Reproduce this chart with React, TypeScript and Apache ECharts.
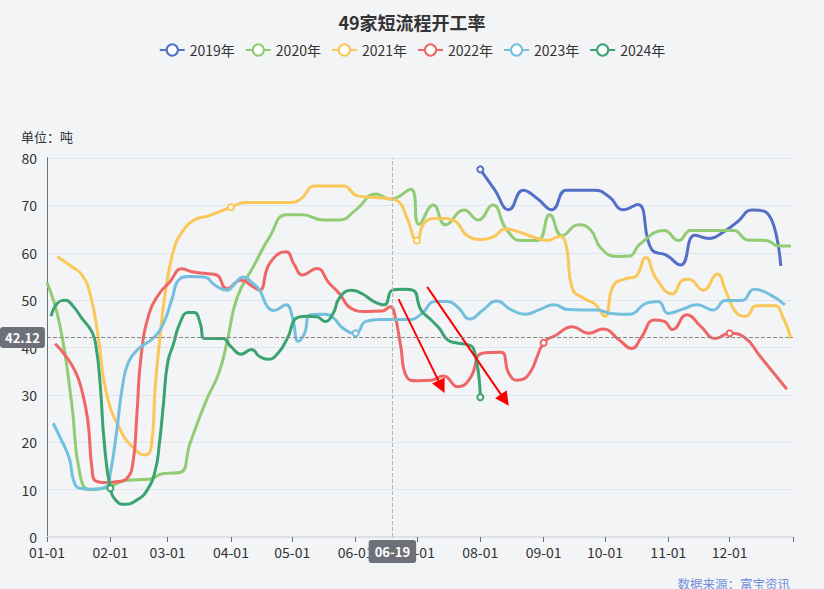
import React, { useEffect, useRef } from 'react';
import * as echarts from 'echarts';

const chartTitle = '49家短流程开工率';
const yUnit = '单位：吨';
const sourceText = '数据来源：富宝资讯';
const monthTicks = ['01-01', '02-01', '03-01', '04-01', '05-01', '06-01', '07-01', '08-01', '09-01', '10-01', '11-01', '12-01'];
const yearNames = ['2019年', '2020年', '2021年', '2022年', '2023年', '2024年'];
const yearColors = ['#5470c6', '#91cc75', '#fac858', '#ee6666', '#73c0de', '#3ba272'];

const dates2019 = ['08-01', '08-08', '08-15', '08-22', '08-29', '09-05', '09-12', '09-19', '09-26', '10-03', '10-10', '10-17', '10-24', '10-31', '11-07', '11-14', '11-21', '11-28', '12-05', '12-12', '12-19', '12-26'];
const values2019 = [77.6, 73.3, 69.1, 73.2, 71.4, 69.1, 73.2, 73.2, 73.2, 71.8, 69.1, 70.2, 60.6, 59.5, 57.4, 63.7, 63.0, 64.4, 66.6, 69.0, 68.5, 57.2];
const markers2019 = ['08-01'];

const dates2020 = ['01-01', '01-07', '01-13', '01-17', '01-22', '01-31', '02-09', '02-20', '02-27', '03-07', '03-12', '03-20', '03-26', '03-30', '04-04', '04-12', '04-20', '04-28', '05-06', '05-16', '05-24', '06-01', '06-11', '06-18', '06-28', '07-02', '07-09', '07-15', '07-24', '07-31', '08-07', '08-14', '08-21', '08-29', '09-04', '09-10', '09-18', '09-24', '09-29', '10-07', '10-13', '10-18', '10-30', '11-06', '11-12', '11-19', '11-26', '12-03', '12-10', '12-19', '12-25', '12-31'];
const values2020 = [53.7, 45.3, 28.5, 13.5, 10.0, 10.5, 12.0, 12.2, 13.4, 13.6, 19.8, 28.9, 34.5, 41.0, 50.5, 57.1, 63.4, 68.0, 68.0, 66.9, 66.9, 69.0, 72.4, 71.3, 73.4, 66.0, 70.1, 65.9, 69.0, 66.9, 70.1, 64.8, 62.6, 62.6, 68.0, 63.6, 65.9, 64.8, 61.0, 59.2, 59.3, 61.8, 64.7, 62.6, 64.7, 64.7, 64.7, 64.7, 62.7, 62.6, 61.4, 61.4];
const markers2020: string[] = [];

const dates2021 = ['01-06', '01-13', '01-18', '01-22', '01-26', '01-30', '02-06', '02-13', '02-18', '02-21', '02-23', '02-25', '02-28', '03-04', '03-08', '03-14', '03-21', '04-01', '04-08', '04-15', '04-22', '04-29', '05-05', '05-12', '05-19', '05-26', '06-02', '06-09', '06-16', '06-22', '06-26', '07-01', '07-05', '07-12', '07-19', '07-26', '08-02', '08-08', '08-13', '08-20', '08-27', '09-03', '09-09', '09-12', '09-15', '09-21', '09-26', '10-01', '10-05', '10-11', '10-16', '10-21', '10-26', '11-03', '11-08', '11-11', '11-18', '11-25', '11-29', '12-04', '12-09', '12-14', '12-23', '12-27', '12-31'];
const values2021 = [59.2, 57.1, 55.4, 51.5, 42.5, 30.5, 22.5, 18.5, 17.3, 19.0, 32.0, 41.0, 52.0, 60.6, 64.3, 66.9, 67.8, 69.6, 70.6, 70.6, 70.6, 70.6, 71.3, 74.1, 74.1, 74.1, 72.0, 71.7, 71.5, 70.8, 67.5, 62.6, 66.5, 67.3, 66.8, 63.5, 62.8, 63.5, 65.0, 64.4, 63.3, 62.6, 63.5, 61.5, 52.5, 50.3, 49.2, 46.6, 53.0, 54.5, 55.0, 59.0, 54.6, 51.3, 54.2, 54.4, 52.1, 55.5, 52.0, 47.5, 46.6, 48.8, 48.8, 46.5, 41.9];
const markers2021 = ['04-01', '07-01'];

const dates2022 = ['01-05', '01-10', '01-15', '01-18', '01-21', '01-23', '01-25', '01-30', '02-05', '02-09', '02-12', '02-14', '02-16', '02-20', '02-25', '03-02', '03-08', '03-13', '03-20', '03-25', '03-30', '04-06', '04-12', '04-15', '04-20', '04-28', '05-02', '05-06', '05-13', '05-19', '05-24', '05-30', '06-06', '06-14', '06-18', '06-20', '06-23', '06-26', '07-01', '07-08', '07-14', '07-21', '07-27', '08-02', '08-11', '08-15', '08-19', '08-25', '09-01', '09-07', '09-15', '09-23', '09-30', '10-08', '10-14', '10-19', '10-25', '10-30', '11-03', '11-10', '11-17', '11-24', '12-01', '12-08', '12-16', '12-22', '12-29'];
const values2022 = [40.8, 38.3, 34.8, 31.0, 24.5, 14.5, 11.8, 11.5, 11.7, 12.3, 15.5, 26.0, 38.0, 47.2, 51.4, 53.8, 56.6, 56.0, 55.6, 55.3, 52.4, 54.2, 52.8, 52.1, 57.8, 60.2, 57.5, 55.3, 56.7, 53.6, 51.4, 48.2, 47.6, 47.7, 48.6, 47.2, 40.5, 33.8, 33.0, 33.1, 34.0, 31.7, 33.5, 38.8, 39.0, 34.5, 33.1, 34.5, 41.0, 42.6, 44.4, 43.0, 43.9, 41.6, 39.8, 42.3, 45.8, 45.5, 43.8, 46.9, 44.4, 41.9, 43.0, 42.2, 38.1, 34.9, 31.2];
const markers2022 = ['09-01', '12-01'];

const dates2023 = ['01-04', '01-08', '01-12', '01-14', '01-17', '01-23', '01-30', '02-01', '02-04', '02-07', '02-10', '02-15', '02-22', '02-27', '03-03', '03-07', '03-12', '03-19', '03-24', '03-30', '04-03', '04-07', '04-11', '04-15', '04-19', '04-22', '04-28', '05-01', '05-04', '05-07', '05-10', '05-17', '05-21', '05-26', '06-01', '06-06', '06-13', '06-20', '06-27', '07-03', '07-10', '07-16', '07-21', '07-27', '08-02', '08-09', '08-16', '08-23', '08-30', '09-06', '09-13', '09-20', '09-27', '10-04', '10-13', '10-21', '10-27', '11-01', '11-08', '11-15', '11-23', '11-29', '12-07', '12-13', '12-21', '12-28'];
const values2023 = [24.0, 20.5, 16.5, 12.0, 10.3, 10.1, 10.6, 13.5, 22.0, 32.0, 37.0, 39.8, 42.0, 45.1, 50.0, 54.5, 55.0, 54.9, 53.2, 52.1, 53.5, 54.9, 53.8, 52.1, 48.5, 47.8, 49.0, 46.5, 41.3, 43.0, 46.9, 47.0, 46.3, 44.0, 43.0, 45.5, 45.9, 45.9, 45.9, 47.0, 49.7, 49.7, 48.5, 46.0, 47.8, 49.8, 48.0, 47.0, 48.0, 49.0, 48.0, 47.9, 47.9, 47.2, 47.0, 49.3, 49.7, 47.2, 48.1, 49.0, 47.9, 49.9, 49.9, 52.3, 51.1, 49.0];
const markers2023 = ['06-01'];

const dates2024 = ['01-03', '01-06', '01-10', '01-14', '01-18', '01-23', '01-25', '01-27', '01-29', '02-01', '02-04', '02-08', '02-14', '02-19', '02-23', '02-25', '02-27', '03-01', '03-04', '03-07', '03-11', '03-14', '03-17', '03-19', '03-28', '04-01', '04-06', '04-11', '04-15', '04-19', '04-24', '04-29', '05-03', '05-08', '05-13', '05-17', '05-21', '05-24', '05-30', '06-04', '06-10', '06-15', '06-19', '06-24', '06-29', '07-03', '07-08', '07-12', '07-16', '07-21', '07-25', '07-29', '08-01'];
const values2024 = [46.6, 49.3, 50.0, 48.6, 46.2, 43.3, 40.2, 32.4, 20.0, 10.3, 7.6, 6.9, 7.8, 9.9, 14.1, 19.8, 28.2, 36.7, 40.9, 45.1, 47.4, 47.4, 45.1, 41.9, 41.9, 40.2, 38.6, 39.6, 38.1, 37.5, 38.8, 42.3, 46.2, 46.6, 46.5, 45.5, 47.2, 50.4, 52.1, 51.4, 49.7, 49.0, 52.1, 52.3, 52.1, 47.9, 45.8, 44.0, 41.6, 40.9, 40.7, 39.4, 29.5];
const markers2024 = ['02-01', '08-01'];

const pointerDate = '06-19';
const pointerValue = 42.12;
const arrowStarts: [string, number][] = [['06-22', 50.2], ['07-06', 52.8]];
const arrowEnds: [string, number][] = [['07-13', 31.7], ['08-13', 28.9]];

const CUM = [0, 31, 59, 90, 120, 151, 181, 212, 243, 273, 304, 334];
const pad = (n: number) => (n < 10 ? '0' + n : '' + n);
function doy(s: string): number {
  const [m, d] = s.split('-').map(Number);
  return CUM[m - 1] + d - 1;
}
function dayLabel(v: number): string {
  const day = Math.round(v);
  let m = 11;
  while (m > 0 && CUM[m] > day) m--;
  return pad(m + 1) + '-' + pad(day - CUM[m] + 1);
}

const FONT = "'Noto Sans CJK SC', 'Noto Sans', sans-serif";

function buildSeries(idx: number, dates: string[], values: number[], markers: string[]) {
  const color = yearColors[idx];
  return {
    name: yearNames[idx],
    type: 'line',
    smooth: true,
    symbol: 'emptyCircle',
    symbolSize: 0,
    showSymbol: true,
    showAllSymbol: true,
    lineStyle: { width: 3, color },
    itemStyle: { color, borderWidth: 1.5 },
    emphasis: { disabled: true },
    data: dates.map((d, i) =>
      markers.includes(d)
        ? { value: [doy(d), values[i]], symbolSize: 6 }
        : [doy(d), values[i]]
    ),
  } as any;
}

export default function App() {
  const ref = useRef<HTMLDivElement>(null);
  useEffect(() => {
    document.body.style.margin = '0';
    if (!ref.current) return;
    const chart = echarts.init(ref.current, undefined, { renderer: 'svg' });
    const series = [
      buildSeries(0, dates2019, values2019, markers2019),
      buildSeries(1, dates2020, values2020, markers2020),
      buildSeries(2, dates2021, values2021, markers2021),
      buildSeries(3, dates2022, values2022, markers2022),
      buildSeries(4, dates2023, values2023, markers2023),
      buildSeries(5, dates2024, values2024, markers2024),
    ];
    series[5].markLine = {
      silent: true,
      symbol: ['none', 'triangle'],
      symbolSize: 14,
      label: { show: false },
      emphasis: { disabled: true },
      lineStyle: { color: '#ff0000', width: 2, type: 'solid' },
      data: arrowStarts.map((s, i) => [
        { coord: [doy(s[0]), s[1]] },
        { coord: [doy(arrowEnds[i][0]), arrowEnds[i][1]] },
      ]),
    };
    const monthDays = monthTicks.map(doy);
    chart.setOption({
      animation: false,
      backgroundColor: '#f3f4f6',
      textStyle: { fontFamily: FONT },
      title: {
        text: chartTitle,
        left: 'center',
        top: 8,
        textStyle: { fontSize: 18, fontWeight: 'bold', color: '#333', fontFamily: FONT },
      },
      legend: {
        top: 38,
        left: 'center',
        itemGap: 10,
        itemWidth: 25,
        itemHeight: 14,
        data: yearNames,
        textStyle: { fontSize: 14, color: '#333', fontFamily: FONT },
      },
      grid: { left: 47, right: 31, top: 158, bottom: 52, containLabel: false },
      xAxis: [
        {
          type: 'value',
          min: 0,
          max: 365,
          splitLine: { show: false },
          axisLine: { show: true, lineStyle: { color: '#6e7079' } },
          axisTick: { show: true, customValues: [...monthDays, 365], length: 5 },
          axisLabel: {
            customValues: monthDays,
            formatter: (v: number) => dayLabel(v),
            color: '#333',
            fontSize: 14,
            margin: 8,
          },
          axisPointer: {
            show: true,
            type: 'line',
            value: doy(pointerDate),
            status: 'show',
            snap: false,
            triggerTooltip: false,
            lineStyle: { color: '#b3b3b3', type: 'dashed', width: 1 },
            label: {
              show: true,
              formatter: (p: any) => dayLabel(p.value),
              backgroundColor: '#6e7079',
              color: '#fff',
              fontSize: 13,
              fontWeight: 'bold',
              padding: [5, 6, 5, 6],
              borderRadius: 3,
            },
          },
        },
        {
          type: 'value',
          position: 'top',
          min: 0,
          max: 365,
          splitLine: { show: false },
          axisTick: { show: false },
          axisLabel: { show: false },
          axisLine: { show: true, lineStyle: { color: '#dcdfe6', width: 2 } },
        },
      ],
      yAxis: [
        {
          type: 'value',
          min: 0,
          max: 80,
          interval: 10,
          name: yUnit,
          nameLocation: 'end',
          nameGap: 15,
          nameTextStyle: { color: '#333', fontSize: 13, align: 'center', fontFamily: FONT },
          axisLine: { show: true, lineStyle: { color: '#6e7079' } },
          axisTick: { show: false },
          axisLabel: { color: '#333', fontSize: 14, margin: 10 },
          splitLine: { lineStyle: { color: '#e0e6f1' } },
          axisPointer: {
            show: true,
            type: 'line',
            value: pointerValue,
            status: 'show',
            snap: false,
            triggerTooltip: false,
            lineStyle: { color: '#888', type: 'dashed', width: 1 },
            label: {
              show: true,
              formatter: (p: any) => Number(p.value).toFixed(2),
              backgroundColor: '#6e7079',
              color: '#fff',
              fontSize: 13,
              fontWeight: 'bold',
              padding: [4, 5, 4, 5],
              borderRadius: 3,
            },
          },
        },
        {
          type: 'value',
          position: 'right',
          min: 0,
          max: 80,
          interval: 10,
          axisLine: { show: true, lineStyle: { color: '#6e7079' } },
          axisTick: { show: false },
          axisLabel: { show: false },
          splitLine: { show: false },
        },
      ],
      graphic: [
        {
          type: 'text',
          right: 34,
          top: 577,
          style: { text: sourceText, fill: '#7391d9', font: `12.5px ${FONT}` },
        },
      ],
      series,
    });
    return () => chart.dispose();
  }, []);
  return <div ref={ref} style={{ width: 824, height: 589 }} />;
}
